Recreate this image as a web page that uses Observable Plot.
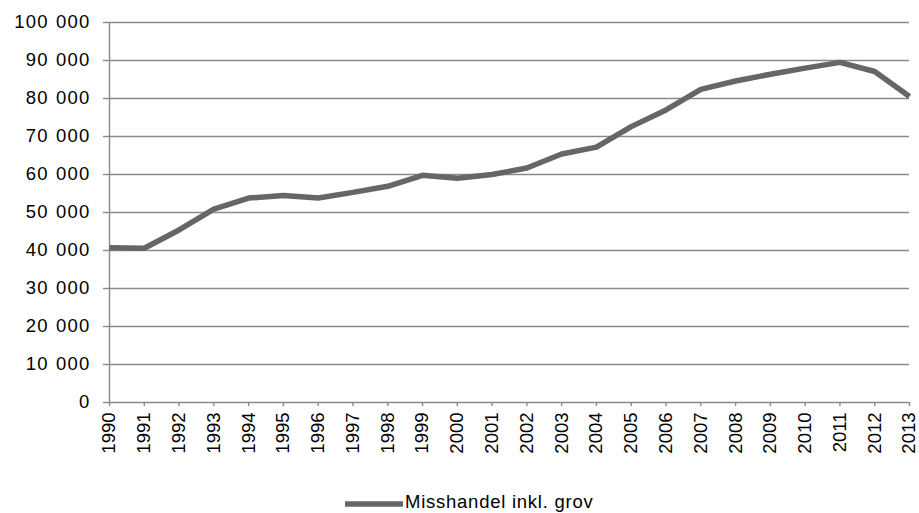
<!DOCTYPE html>
<html>
<head>
<meta charset="utf-8">
<script src="https://cdn.jsdelivr.net/npm/d3@7"></script>
<script src="https://cdn.jsdelivr.net/npm/@observablehq/plot@0.6"></script>
<style>
  body { margin: 0; background: #fff; font-family: "Liberation Sans", Arial, sans-serif; }
  #wrap { position: relative; width: 919px; height: 513px; overflow: hidden; }
  #legend { position: absolute; left: 345px; top: 491px; display: flex; align-items: center; font-size: 18.5px; letter-spacing: 0.75px; line-height: 22px; color: #000; }
  #legend svg { display: block; }
</style>
</head>
<body>
<div id="wrap"></div>
<script>
const years = [1990,1991,1992,1993,1994,1995,1996,1997,1998,1999,2000,2001,2002,2003,2004,2005,2006,2007,2008,2009,2010,2011,2012,2013];
const values = [40700,40600,45400,50900,53800,54500,53800,55300,56900,59800,59000,60000,61700,65400,67200,72600,77000,82400,84600,86400,88000,89500,87100,80500];
const yTicks = [0,10000,20000,30000,40000,50000,60000,70000,80000,90000,100000];
const seriesName = "Misshandel inkl. grov";

const data = years.map((y, i) => ({year: y, value: values[i]}));
const fmt = d => d3.format(",")(d).replace(/,/g, "\u2004");

const chart = Plot.plot({
  width: 919,
  height: 480,
  marginLeft: 109,
  marginRight: 10,
  marginTop: 22,
  marginBottom: 78,
  style: { fontFamily: "Liberation Sans, Arial, sans-serif", fontSize: "18.5px", color: "#000", background: "#fff" },
  x: { domain: [years[0], years[years.length - 1]], label: null },
  y: { domain: [0, 100000], label: null },
  marks: [
    Plot.ruleY(yTicks, { x1: years[0], x2: years[years.length - 1], stroke: "#8a8a8a", strokeWidth: 1.4 }),
    Plot.ruleX([years[0]], { y1: 0, y2: 100000, stroke: "#8a8a8a", strokeWidth: 1.4 }),
    Plot.axisY(yTicks, { tickSize: 6, tickPadding: 13, tickFormat: fmt, stroke: "#8a8a8a", strokeWidth: 1.4, fill: "#000", fontSize: 18.5 }),
    Plot.axisX(years, { tickSize: 4, tickPadding: 6, tickRotate: -90, tickFormat: "d", stroke: "#8a8a8a", strokeWidth: 1.4, fill: "#000", fontSize: 18.5 }),
    Plot.line(data, { x: "year", y: "value", stroke: "#666666", strokeWidth: 5.5, strokeLinejoin: "round", strokeLinecap: "butt" })
  ]
});
chart.querySelectorAll("g[aria-label='y-axis tick label'] text").forEach(t => t.style.letterSpacing = "1.2px");

const wrap = document.getElementById("wrap");
wrap.appendChild(chart);

const legend = document.createElement("div");
legend.id = "legend";
legend.innerHTML = `<svg width="58" height="10" style="margin-top:3px"><line x1="1" y1="5" x2="57" y2="5" stroke="#666666" stroke-width="5.5" stroke-linecap="round"/></svg><span style="margin-left:2px">${seriesName}</span>`;
wrap.appendChild(legend);
</script>
</body>
</html>
